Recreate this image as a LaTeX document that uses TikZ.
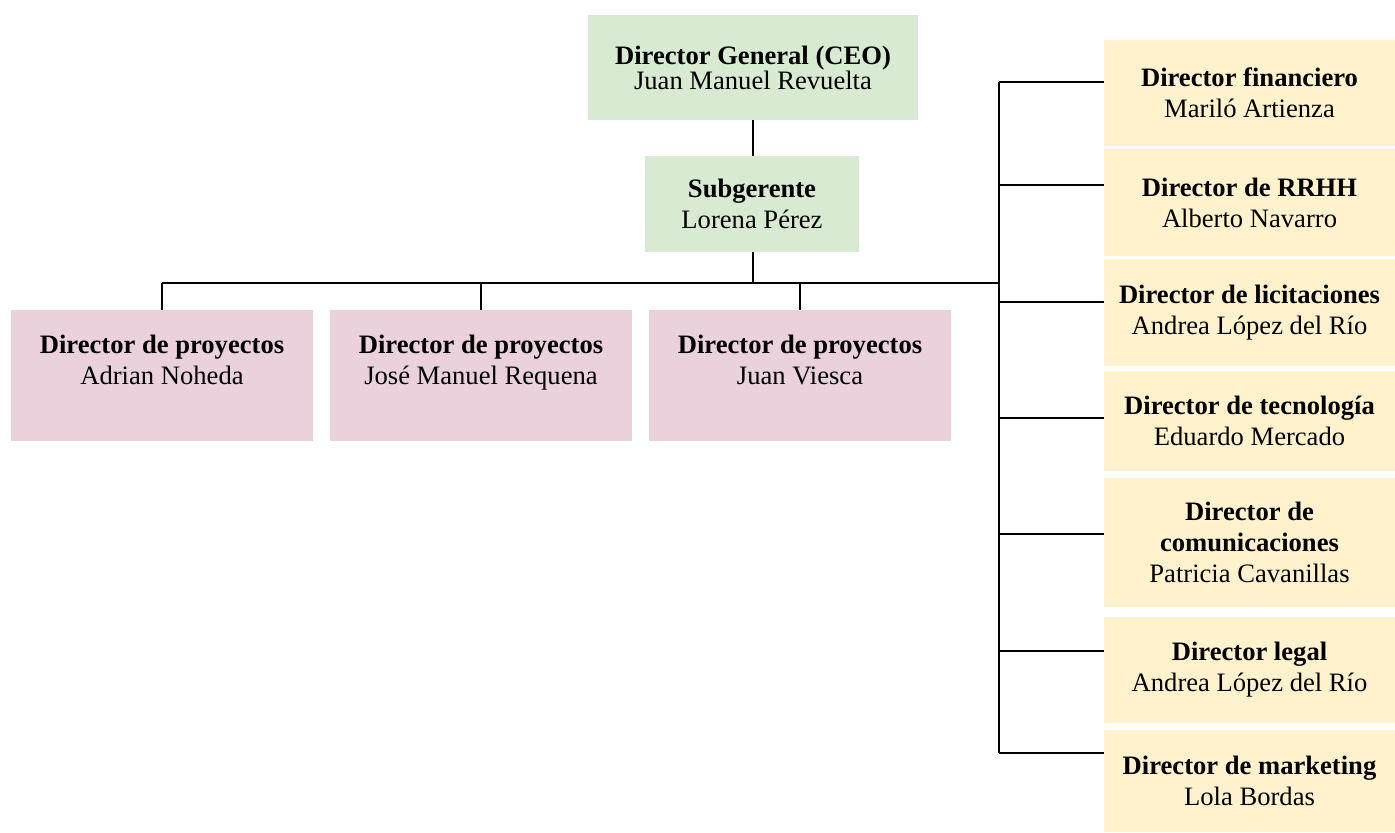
\documentclass[tikz,border=0pt]{standalone}
\usepackage{fontspec}
\setmainfont{Liberation Serif}

\definecolor{verde}{HTML}{D9EAD3}
\definecolor{rosa}{HTML}{EAD1DC}
\definecolor{crema}{HTML}{FFF2CC}

\begin{document}
\begin{tikzpicture}[x=0.5pt,y=-0.5pt,
        caja/.style={inner sep=0pt, align=center, font=\fontsize{13.3}{15.5}\selectfont},
        cajaverde/.style={caja, fill=verde},
        cajarosa/.style={caja, fill=rosa, minimum width=151pt, minimum height=65.5pt},
        cajacrema/.style={caja, fill=crema, minimum width=145.5pt},
        linea/.style={line width=1.1pt}]
        \useasboundingbox (0,0) rectangle (1395,832);

        \node[cajaverde, minimum width=165pt, minimum height=52.5pt](ceo) at (753,67.5){\textbf{Director General (CEO)}\\[-3pt]Juan Manuel Revuelta};
        \node[cajaverde, minimum width=107pt, minimum height=48pt](sub) at (752,204){\textbf{Subgerente}\\Lorena Pérez};

        \node[cajarosa](proy1) at (162,375.5){\textbf{Director de proyectos}\\Adrian Noheda\\~};
        \node[cajarosa](proy2) at (481,375.5){\textbf{Director de proyectos}\\José Manuel Requena\\~};
        \node[cajarosa](proy3) at (800,375.5){\textbf{Director de proyectos}\\Juan Viesca\\~};

        \node[cajacrema, minimum height=53pt](fin) at (1249.5,93){\textbf{Director financiero}\\Mariló Artienza};
        \node[cajacrema, minimum height=53.5pt](rrhh) at (1249.5,202.5){\textbf{Director de RRHH}\\Alberto Navarro};
        \node[cajacrema, minimum height=53.5pt](lic) at (1249.5,312.5){\textbf{Director de licitaciones}\\Andrea López del Río};
        \node[cajacrema, minimum height=50pt](tec) at (1249.5,421){\textbf{Director de tecnología}\\Eduardo Mercado};
        \node[cajacrema, minimum height=64.5pt](com) at (1249.5,542.5){\textbf{Director de}\\\textbf{comunicaciones}\\Patricia Cavanillas};
        \node[cajacrema, minimum height=53pt](leg) at (1249.5,670){\textbf{Director legal}\\Andrea López del Río};
        \node[cajacrema, minimum height=51pt](mkt) at (1249.5,781){\textbf{Director de marketing}\\Lola Bordas};

        \coordinate(bus) at (999,283);
        \coordinate(top) at (999,82);
        \coordinate(bot) at (999,753);

        \draw[linea](ceo.south)--(ceo.south |- sub.north);
        \draw[linea](ceo.south |- sub.south)--(ceo.south |- bus);
        \draw[linea](proy1.north |- bus)--(bus);
        \draw[linea](top)--(bot);
        \foreach \n in {proy1,proy2,proy3}
            \draw[linea](\n.north |- bus)--(\n.north);

        \draw[linea](top)--(top -| fin.west);
        \draw[linea](999,185)--(rrhh.west |- 0,185);
        \draw[linea](999,302)--(lic.west |- 0,302);
        \draw[linea](999,418)--(tec.west |- 0,418);
        \draw[linea](999,534)--(com.west |- 0,534);
        \draw[linea](999,651)--(leg.west |- 0,651);
        \draw[linea](bot)--(bot -| mkt.west);
    \end{tikzpicture}
\end{document}
